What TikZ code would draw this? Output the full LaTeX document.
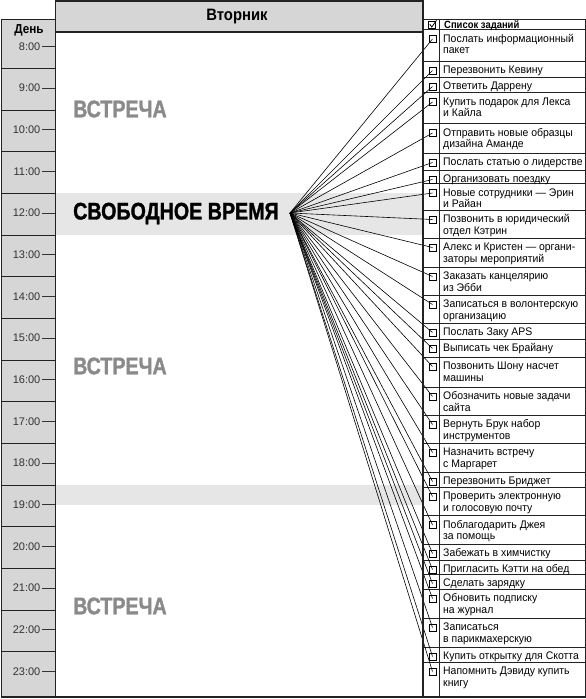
\documentclass[tikz,border=0pt]{standalone}
\usepackage{fontspec}
\setmainfont{Liberation Sans}
\newfontfamily\condfont[FakeStretch=0.95]{Liberation Sans}
\newfontfamily\heavyfont[FakeStretch=0.82,FakeBold=1.3]{Liberation Sans Bold}
\newfontfamily\boldcond[FakeStretch=0.9]{Liberation Sans Bold}
\definecolor{colgray}{HTML}{D6D6D6}
\definecolor{bandgray}{HTML}{E6E6E6}
\definecolor{meetgray}{HTML}{8A8A8A}
\definecolor{framecol}{HTML}{222222}
\definecolor{hourcol}{HTML}{333333}
\tikzset{
  frame/.style={draw=framecol, line width=1.2pt},
  thinframe/.style={draw=framecol, line width=0.9pt},
  tickline/.style={draw=hourcol, line width=0.8pt},
  conn/.style={draw=black, line width=0.6pt},
  cbox/.style={draw=black, line width=0.7pt, minimum size=7pt, inner sep=0pt},
  hourlbl/.style={font=\fontsize{11}{12}\selectfont, text=hourcol, inner sep=0pt, anchor=east},
  tasktext/.style={font=\condfont\fontsize{11}{12}\selectfont, inner sep=0pt, anchor=base west},
  bigword/.style={font=\heavyfont\fontsize{24}{25}\selectfont, inner sep=0pt, anchor=west},
  headtext/.style={inner sep=0pt}
}
\begin{document}
\begin{tikzpicture}[x=1pt,y=-1pt]
\useasboundingbox (0,0) rectangle (586,699);
% fills
\fill[colgray] (1.5,19.5) rectangle (55.5,697);
\fill[colgray] (55.5,1) rectangle (423,32);
\fill[bandgray] (55.5,193.3) rectangle (423,235);
\fill[bandgray] (55.5,485) rectangle (423,505);
% left column separators
\foreach \k in {0,...,14} {
  \draw[thinframe] (1.5,{68.3+41.667*\k}) -- (55.5,{68.3+41.667*\k});
}
% hour labels
\node[headtext, font=\boldcond\fontsize{13}{14}\selectfont, anchor=base] (day) at (29,33) {День};
\foreach \k in {0,...,15} {
  \pgfmathtruncatemacro\h{8+\k}
  \node[hourlbl] (h\k) at (40.5,{46.3+41.667*\k}) {\h:00};
  \draw[tickline] ([xshift=1.5pt]h\k.east) -- (h\k.east -| 55.5,0);
}
% main header
\node[headtext, font=\boldcond\fontsize{16.5}{17}\selectfont] (tue) at (237,16.8) {Вторник};
% big words
\node[bigword, text=meetgray] (m1) at (73,109) {ВСТРЕЧА};
\node[bigword, text=black] (free) at (73,213.5) {СВОБОДНОЕ ВРЕМЯ};
\node[bigword, text=meetgray] (m2) at (73,366) {ВСТРЕЧА};
\node[bigword, text=meetgray] (m3) at (73,606) {ВСТРЕЧА};
\coordinate (hub) at (290,213);
% task rows
\foreach \y in {29.5,61,77,92.5,123.5,153,170,183.5,210,238,267,295,323,339,357,387,415,443,472,487,515.5,544,560,574,589,618,647,662} {
  \draw[thinframe] (423,\y) -- (585.5,\y);
}
\foreach \t/\la/\lb [count=\i] in {
  29.5/Послать информационный/пакет,
  61/Перезвонить Кевину/,
  77/Ответить Даррену/,
  92.5/Купить подарок для Лекса/и Кайла,
  123.5/Отправить новые образцы/дизайна Аманде,
  153/Послать статью о лидерстве/,
  170/Организовать поездку/,
  183.5/Новые сотрудники — Эрин/и Райан,
  210/Позвонить в юридический/отдел Кэтрин,
  238/Алекс и Кристен — органи-/заторы мероприятий,
  267/Заказать канцелярию/из Эбби,
  295/Записаться в волонтерскую/организацию,
  323/Послать Заку APS/,
  339/Выписать чек Брайану/,
  357/Позвонить Шону насчет/машины,
  387/Обозначить новые задачи/сайта,
  415/Вернуть Брук набор/инструментов,
  443/Назначить встречу/с Маргарет,
  472/Перезвонить Бриджет/,
  487/Проверить электронную/и голосовую почту,
  515.5/Поблагодарить Джея/за помощь,
  544/Забежать в химчистку/,
  560/Пригласить Кэтти на обед/,
  574/Сделать зарядку/,
  589/Обновить подписку/на журнал,
  618/Записаться/в парикмахерскую,
  647/Купить открытку для Скотта/,
  662/Напомнить Дэвиду купить/книгу} {
  \node[cbox] (cb\i) at (432.5,{\t+9.5}) {};
  \draw[conn] (hub) -- (cb\i.center);
  \node[tasktext] (ta\i) at (443,{\t+12.5}) {\la};
  \ifx\lb\empty\else
    \node[tasktext] (tb\i) at (443,{\t+24}) {\lb};
  \fi
}
% task header
\node[cbox] (hbox) at (432,24.8) {};
\draw[black, line width=0.8pt] (429.8,24.3) -- (431.8,27) -- (436.5,20.3);
\node[headtext, font=\boldcond\fontsize{10.5}{11}\selectfont, anchor=base west] (tasks) at (444,28.3) {Список заданий};
% frame lines
\draw[frame] (1.5,697) -- (1.5,19.5) -- (55.5,19.5);
\draw[frame] (55.5,697) -- (55.5,1) -- (423,1) -- (423,697);
\draw[frame] (55.5,32) -- (423,32);
\draw[frame] (423,19.5) -- (585.5,19.5) -- (585.5,697);
\draw[thinframe] (439.5,19.5) -- (439.5,697);
\draw[frame] (0.9,697) -- (586,697);
\end{tikzpicture}
\end{document}
